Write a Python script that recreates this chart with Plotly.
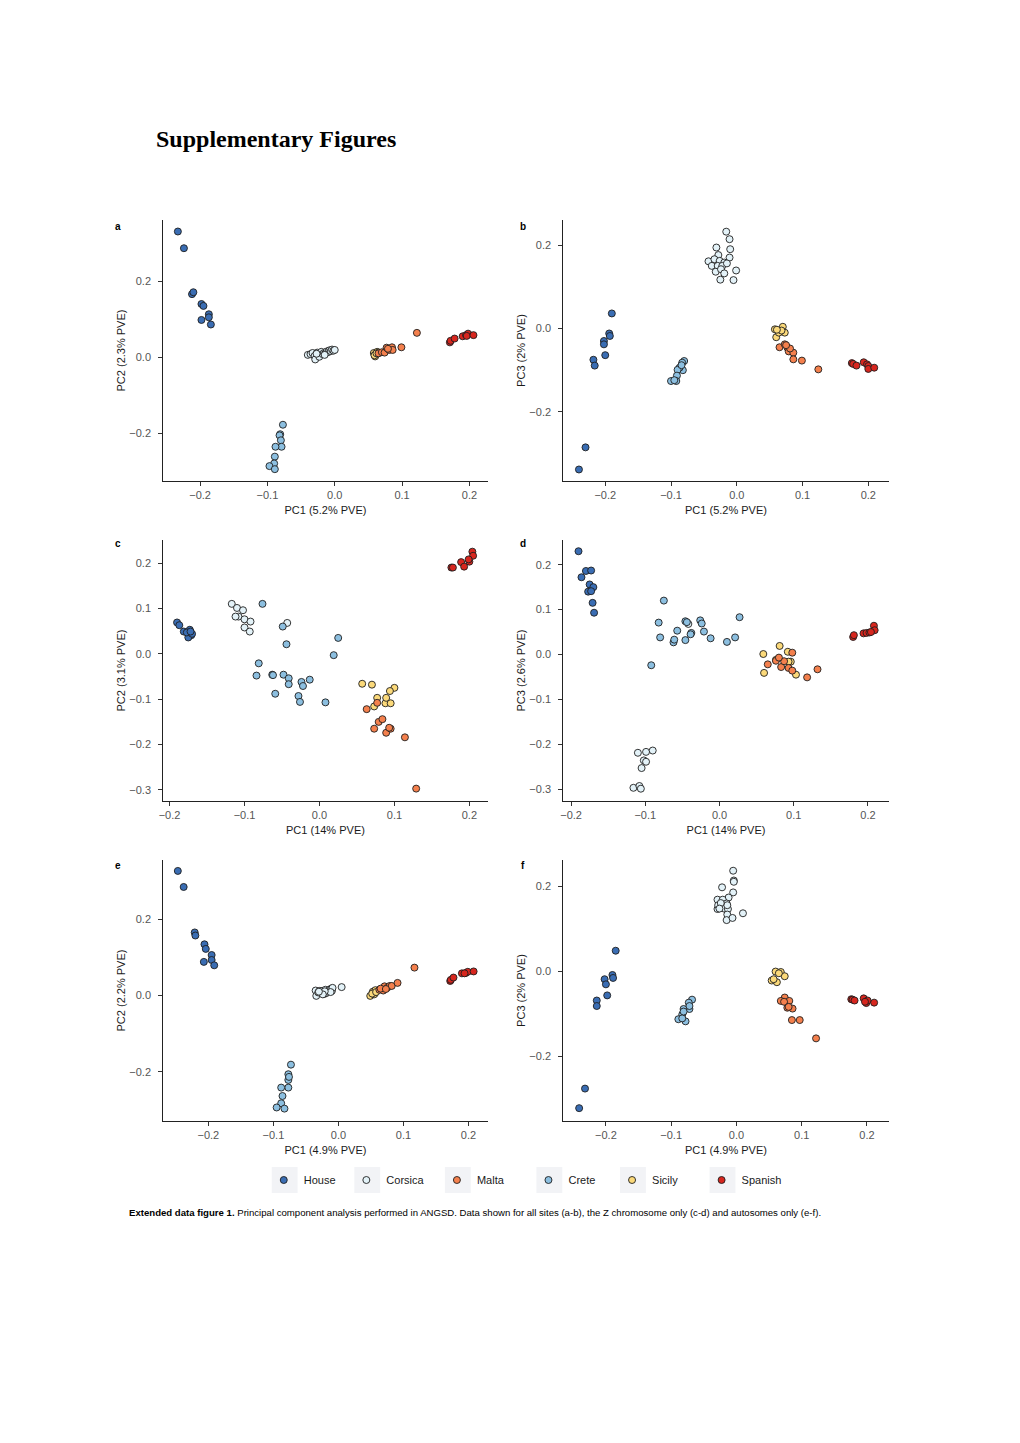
import plotly.graph_objects as go

W, H = 1020, 1443
PAGE_OFFSET_X = 11  # measured shift of the figure inside the page
PAGE_OFFSET_Y = 8

GROUPS = ["House", "Corsica", "Malta", "Crete", "Sicily", "Spanish"]
COLORS = {"House": "#3a6db3", "Corsica": "#e3f2f8", "Malta": "#f4804d",
          "Crete": "#8cbfe0", "Sicily": "#fbd97a", "Spanish": "#d7261e"}
DRAW_ORDER = ["House", "Corsica", "Crete", "Sicily", "Malta", "Spanish"]

# ---------------- panel a : PC1 vs PC2, all sites ----------------
A_HOUSE_X = [-0.233, -0.224, -0.212, -0.210, -0.198, -0.195, -0.198, -0.187, -0.187, -0.184]
A_HOUSE_Y = [0.331, 0.287, 0.166, 0.171, 0.140, 0.135, 0.098, 0.113, 0.105, 0.086]
A_CORSICA_X = [-0.040, -0.036, -0.033, -0.030, -0.029, -0.026, -0.023, -0.020, -0.018, -0.016,
               -0.014, -0.012, -0.010, -0.008, -0.006, -0.004, -0.002, 0.000, -0.027, -0.015]
A_CORSICA_Y = [0.006, 0.008, 0.011, 0.003, -0.006, 0.012, 0.001, 0.014, 0.008, 0.011,
               0.010, 0.015, 0.013, 0.018, 0.016, 0.020, 0.017, 0.019, 0.009, 0.006]
A_CRETE_X = [-0.077, -0.081, -0.082, -0.080, -0.079, -0.088, -0.089, -0.090, -0.097, -0.089]
A_CRETE_Y = [-0.178, -0.203, -0.206, -0.219, -0.236, -0.236, -0.262, -0.280, -0.287, -0.295]
A_SICILY_X = [0.058, 0.060, 0.063, 0.061, 0.065, 0.059, 0.062]
A_SICILY_Y = [0.011, 0.002, 0.014, 0.008, 0.012, 0.005, 0.010]
A_MALTA_X = [0.065, 0.070, 0.074, 0.077, 0.081, 0.085, 0.086, 0.099, 0.122, 0.079]
A_MALTA_Y = [0.010, 0.013, 0.012, 0.025, 0.019, 0.026, 0.019, 0.026, 0.064, 0.022]
A_SPANISH_X = [0.171, 0.172, 0.178, 0.190, 0.195, 0.198, 0.196, 0.206]
A_SPANISH_Y = [0.039, 0.043, 0.049, 0.055, 0.058, 0.062, 0.056, 0.058]

# ---------------- panel b : PC1 vs PC3, all sites ----------------
B_HOUSE_X = [-0.190, -0.194, -0.193, -0.202, -0.202, -0.200, -0.218, -0.216, -0.230, -0.240]
B_HOUSE_Y = [0.036, -0.012, -0.018, -0.030, -0.038, -0.064, -0.075, -0.089, -0.285, -0.338]
B_CORSICA_X = [-0.016, -0.011, -0.031, -0.010, -0.028, -0.011, -0.043, -0.034, -0.026, -0.019,
               -0.038, -0.029, -0.022, -0.015, -0.032, -0.024, -0.019, -0.001, -0.025, -0.005]
B_CORSICA_Y = [0.232, 0.214, 0.194, 0.190, 0.176, 0.170, 0.161, 0.166, 0.162, 0.158,
               0.150, 0.150, 0.150, 0.156, 0.136, 0.142, 0.132, 0.139, 0.117, 0.116]
B_CRETE_X = [-0.080, -0.083, -0.082, -0.087, -0.090, -0.091, -0.100, -0.092, -0.095, -0.084]
B_CRETE_Y = [-0.078, -0.082, -0.100, -0.094, -0.099, -0.113, -0.126, -0.126, -0.124, -0.088]
B_SICILY_X = [0.058, 0.070, 0.073, 0.060, 0.064, 0.068, 0.061]
B_SICILY_Y = [-0.002, 0.004, -0.010, -0.021, -0.010, -0.005, -0.003]
B_MALTA_X = [0.065, 0.073, 0.077, 0.079, 0.086, 0.081, 0.086, 0.099, 0.124, 0.075]
B_MALTA_Y = [-0.045, -0.038, -0.046, -0.055, -0.058, -0.048, -0.074, -0.077, -0.098, -0.040]
B_SPANISH_X = [0.175, 0.177, 0.182, 0.193, 0.198, 0.200, 0.200, 0.209]
B_SPANISH_Y = [-0.083, -0.085, -0.089, -0.081, -0.086, -0.090, -0.097, -0.094]

# ---------------- panel c : PC1 vs PC2, Z chromosome ----------------
C_HOUSE_X = [-0.190, -0.187, -0.181, -0.173, -0.174, -0.171, -0.175, -0.170, -0.177, -0.172]
C_HOUSE_Y = [0.069, 0.063, 0.049, 0.053, 0.044, 0.041, 0.036, 0.044, 0.047, 0.049]
C_CORSICA_X = [-0.117, -0.110, -0.108, -0.112, -0.102, -0.100, -0.092, -0.100, -0.093, -0.043]
C_CORSICA_Y = [0.110, 0.101, 0.082, 0.082, 0.096, 0.076, 0.071, 0.058, 0.049, 0.068]
C_CRETE_X = [-0.076, -0.049, -0.044, -0.081, -0.084, -0.063, -0.062, -0.059, -0.048, -0.041,
             -0.041, -0.024, -0.022, -0.013, -0.028, -0.026, 0.008, 0.019, 0.025]
C_CRETE_Y = [0.110, 0.060, 0.021, -0.021, -0.048, -0.046, -0.047, -0.088, -0.046, -0.054,
             -0.067, -0.062, -0.071, -0.057, -0.093, -0.106, -0.107, -0.003, 0.035]
C_SICILY_X = [0.057, 0.070, 0.100, 0.094, 0.077, 0.073, 0.088, 0.095, 0.089]
C_SICILY_Y = [-0.066, -0.068, -0.075, -0.082, -0.097, -0.116, -0.109, -0.109, -0.097]
C_MALTA_X = [0.063, 0.077, 0.079, 0.084, 0.073, 0.089, 0.095, 0.114, 0.129, 0.093]
C_MALTA_Y = [-0.122, -0.108, -0.150, -0.144, -0.165, -0.174, -0.165, -0.184, -0.297, -0.163]
C_SPANISH_X = [0.176, 0.178, 0.189, 0.193, 0.200, 0.204, 0.205, 0.199]
C_SPANISH_Y = [0.190, 0.190, 0.202, 0.192, 0.203, 0.225, 0.216, 0.208]

# ---------------- panel d : PC1 vs PC3, Z chromosome ----------------
D_HOUSE_X = [-0.190, -0.186, -0.180, -0.173, -0.175, -0.170, -0.177, -0.173, -0.171, -0.169]
D_HOUSE_Y = [0.230, 0.172, 0.186, 0.187, 0.156, 0.150, 0.140, 0.141, 0.115, 0.093]
D_CORSICA_X = [-0.110, -0.099, -0.090, -0.102, -0.099, -0.105, -0.116, -0.108, -0.106, -0.042]
D_CORSICA_Y = [-0.219, -0.217, -0.214, -0.236, -0.239, -0.253, -0.297, -0.293, -0.299, 0.068]
D_CRETE_X = [-0.075, -0.082, -0.080, -0.092, -0.062, -0.061, -0.057, -0.046, -0.046, -0.038,
             -0.039, -0.026, -0.024, -0.021, -0.012, 0.010, 0.021, 0.027, -0.044]
D_CRETE_Y = [0.120, 0.071, 0.038, -0.024, 0.027, 0.033, 0.053, 0.074, 0.032, 0.048,
             0.045, 0.076, 0.069, 0.051, 0.036, 0.028, 0.038, 0.083, 0.072]
D_SICILY_X = [0.059, 0.081, 0.092, 0.060, 0.103, 0.096, 0.076, 0.093]
D_SICILY_Y = [0.001, 0.019, 0.006, -0.041, -0.045, -0.016, -0.012, -0.016]
D_MALTA_X = [0.065, 0.076, 0.083, 0.087, 0.093, 0.098, 0.098, 0.118, 0.132, 0.080]
D_MALTA_Y = [-0.022, -0.014, -0.028, -0.015, -0.030, 0.004, -0.036, -0.051, -0.033, -0.007]
D_SPANISH_X = [0.180, 0.181, 0.194, 0.198, 0.202, 0.208, 0.209, 0.204]
D_SPANISH_Y = [0.039, 0.043, 0.047, 0.048, 0.049, 0.064, 0.054, 0.050]

# ---------------- panel e : PC1 vs PC2, autosomes ----------------
E_HOUSE_X = [-0.247, -0.238, -0.221, -0.220, -0.206, -0.204, -0.207, -0.195, -0.195, -0.191]
E_HOUSE_Y = [0.326, 0.284, 0.165, 0.157, 0.134, 0.122, 0.088, 0.106, 0.093, 0.079]
E_CORSICA_X = [-0.035, -0.034, -0.031, -0.029, -0.027, -0.025, -0.022, -0.020, -0.019, -0.017,
               -0.015, -0.013, -0.011, -0.010, -0.009, -0.012, -0.021, -0.024, -0.030, 0.005]
E_CORSICA_Y = [0.013, -0.001, 0.008, 0.012, 0.010, 0.012, 0.004, 0.015, 0.006, 0.010,
               0.013, 0.016, 0.018, 0.012, 0.020, 0.009, 0.011, 0.003, 0.010, 0.022]
E_CRETE_X = [-0.073, -0.077, -0.077, -0.077, -0.088, -0.086, -0.088, -0.095, -0.083, -0.076]
E_CRETE_Y = [-0.181, -0.206, -0.221, -0.241, -0.241, -0.263, -0.282, -0.293, -0.296, -0.213]
E_SICILY_X = [0.049, 0.056, 0.053, 0.057, 0.055, 0.052, 0.058]
E_SICILY_Y = [-0.001, 0.006, 0.010, 0.014, 0.003, 0.005, 0.009]
E_MALTA_X = [0.063, 0.069, 0.071, 0.075, 0.079, 0.082, 0.091, 0.117, 0.065, 0.073]
E_MALTA_Y = [0.015, 0.013, 0.024, 0.020, 0.025, 0.025, 0.033, 0.073, 0.018, 0.017]
E_SPANISH_X = [0.172, 0.173, 0.177, 0.190, 0.196, 0.199, 0.208, 0.194]
E_SPANISH_Y = [0.038, 0.041, 0.047, 0.058, 0.059, 0.062, 0.063, 0.058]

# ---------------- panel f : PC1 vs PC3, autosomes ----------------
F_HOUSE_X = [-0.185, -0.190, -0.189, -0.202, -0.200, -0.198, -0.214, -0.214, -0.232, -0.241]
F_HOUSE_Y = [0.048, -0.009, -0.016, -0.019, -0.031, -0.057, -0.069, -0.082, -0.276, -0.322]
F_CORSICA_X = [-0.005, -0.004, -0.022, -0.005, -0.012, -0.029, -0.021, -0.015, -0.029, -0.028,
               -0.019, -0.013, -0.014, -0.015, -0.006, 0.010, -0.004, -0.014, -0.024, -0.026]
F_CORSICA_Y = [0.236, 0.213, 0.197, 0.185, 0.173, 0.168, 0.168, 0.159, 0.146, 0.155,
               0.147, 0.146, 0.133, 0.120, 0.125, 0.136, 0.210, 0.155, 0.160, 0.147]
F_CRETE_X = [-0.068, -0.073, -0.072, -0.081, -0.083, -0.089, -0.078, -0.083, -0.072, -0.081]
F_CRETE_Y = [-0.067, -0.074, -0.089, -0.089, -0.102, -0.113, -0.118, -0.111, -0.082, -0.095]
F_SICILY_X = [0.060, 0.068, 0.074, 0.054, 0.062, 0.065, 0.057]
F_SICILY_Y = [-0.001, -0.002, -0.012, -0.022, -0.026, -0.005, -0.019]
F_MALTA_X = [0.074, 0.068, 0.081, 0.078, 0.086, 0.085, 0.097, 0.122, 0.073, 0.080]
F_MALTA_Y = [-0.062, -0.070, -0.070, -0.086, -0.088, -0.115, -0.115, -0.158, -0.072, -0.084]
F_SPANISH_X = [0.176, 0.178, 0.181, 0.195, 0.199, 0.201, 0.211, 0.197]
F_SPANISH_Y = [-0.066, -0.067, -0.069, -0.064, -0.075, -0.069, -0.074, -0.072]

# axis labels
X_TITLES = ["PC1 (5.2% PVE)", "PC1 (5.2% PVE)", "PC1 (14% PVE)", "PC1 (14% PVE)",
            "PC1 (4.9% PVE)", "PC1 (4.9% PVE)"]
Y_TITLES = ["PC2 (2.3% PVE)", "PC3 (2% PVE)", "PC2 (3.1% PVE)", "PC3 (2.6% PVE)",
            "PC2 (2.2% PVE)", "PC3 (2% PVE)"]
LETTERS = ["a", "b", "c", "d", "e", "f"]
X_TICKS = [-0.2, -0.1, 0.0, 0.1, 0.2]
Y_TICKS_WIDE = [-0.2, 0.0, 0.2]
Y_TICKS_FINE = [-0.3, -0.2, -0.1, 0.0, 0.1, 0.2]

G = globals()


def px_x(v):
    return (v - PAGE_OFFSET_X) / W


def px_y(v):
    return 1 - (v - PAGE_OFFSET_Y) / H


# ---------------- layout geometry (pixels in the page) ----------------
COLS = [(162, 488), (564, 891)]
ROWS = [(220, 481), (540, 801), (860, 1121)]
LETTER_POS = [(117, 227), (524, 227), (117, 544), (524, 543), (117, 865), (524, 865)]
X_RANGES = [(-0.2547, 0.2271), (-0.2638, 0.2310), (-0.2084, 0.2244),
            (-0.2105, 0.2279), (-0.2694, 0.2296), (-0.2653, 0.2333)]
Y_RANGES = [(-0.3262, 0.3613), (-0.3656, 0.2600), (-0.3243, 0.2507),
            (-0.3264, 0.2550), (-0.3284, 0.3546), (-0.3522, 0.2612)]

FONT = "Liberation Sans, Arial, Helvetica, sans-serif"

fig = go.Figure()
layout_axes = {}
annotations = []

for i, letter in enumerate(LETTERS):
    r, c = divmod(i, 2)
    x0, x1 = COLS[c]
    y0, y1 = ROWS[r]
    xa = "xaxis" if i == 0 else f"xaxis{i+1}"
    ya = "yaxis" if i == 0 else f"yaxis{i+1}"
    xref = "x" if i == 0 else f"x{i+1}"
    yref = "y" if i == 0 else f"y{i+1}"

    for g in DRAW_ORDER:
        key = letter.upper() + "_" + g.upper()
        fig.add_trace(go.Scatter(
            x=G[key + "_X"], y=G[key + "_Y"], mode="markers", name=g,
            xaxis=xref, yaxis=yref,
            marker=dict(size=7, color=COLORS[g], line=dict(width=0.9, color="#1e1e1e")),
            showlegend=False, hoverinfo="x+y+name"))

    common = dict(showline=True, linecolor="#222222", linewidth=1, mirror=False,
                  ticks="outside", ticklen=4, tickwidth=1, tickcolor="#333333",
                  showgrid=False, zeroline=False, tickformat=".1f",
                  tickfont=dict(family=FONT, size=11, color="#555555"))
    layout_axes[xa] = dict(common, domain=[px_x(x0), px_x(x1)], anchor=yref,
                           range=list(X_RANGES[i]), tickvals=X_TICKS,
                           title=dict(text=X_TITLES[i], standoff=6,
                                      font=dict(family=FONT, size=11, color="#1a1a1a")))
    yt = Y_TICKS_FINE if letter in "cd" else Y_TICKS_WIDE
    layout_axes[ya] = dict(common, domain=[px_y(y1), px_y(y0)], anchor=xref,
                           range=list(Y_RANGES[i]), tickvals=yt, ticklabelstandoff=5,
                           title=dict(text=Y_TITLES[i], standoff=1,
                                      font=dict(family=FONT, size=11, color="#1a1a1a")))
    lx, ly = LETTER_POS[i]
    annotations.append(dict(text=f"<b>{letter}</b>", xref="paper", yref="paper",
                            x=px_x(lx), y=px_y(ly), xanchor="center",
                            yanchor="middle", showarrow=False,
                            font=dict(family=FONT, size=10, color="#000000")))

# ---------------- legend (one per group so each key sits where it should) ----------------
LEGEND_X = [284, 367, 458, 550, 634, 724]
LEGEND_YPIX = 1180
LEGEND_ORDER = ["House", "Corsica", "Malta", "Crete", "Sicily", "Spanish"]
shapes = []
for k, g in enumerate(LEGEND_ORDER):
    lname = "legend" if k == 0 else f"legend{k+1}"
    fig.add_trace(go.Scatter(
        x=[None], y=[None], mode="markers", name=g, legend=lname, showlegend=True,
        marker=dict(size=7, color=COLORS[g], line=dict(width=0.9, color="#1e1e1e"))))
    layout_axes[lname] = dict(x=px_x(LEGEND_X[k] - 21), y=px_y(LEGEND_YPIX),
                              xanchor="left", yanchor="middle", bgcolor="rgba(0,0,0,0)",
                              borderwidth=0, font=dict(family=FONT, size=11, color="#1a1a1a"))
    shapes.append(dict(type="rect", xref="paper", yref="paper", layer="below",
                       x0=px_x(LEGEND_X[k] - 13), x1=px_x(LEGEND_X[k] + 13),
                       y0=px_y(1193), y1=px_y(1167),
                       fillcolor="#f2f3f6", line=dict(width=0)))

annotations.append(dict(text="<b>Supplementary Figures</b>", xref="paper", yref="paper",
                        x=px_x(153), y=px_y(139), xanchor="left", yanchor="middle",
                        showarrow=False,
                        font=dict(family="Liberation Serif, Times New Roman, serif", size=24,
                                  color="#000000")))
annotations.append(dict(
    text="<b>Extended data figure 1.</b> Principal component analysis performed in ANGSD. "
         "Data shown for all sites (a-b), the Z chromosome only (c-d) and autosomes only (e-f).",
    xref="paper", yref="paper", x=px_x(126), y=px_y(1212), xanchor="left", yanchor="middle",
    showarrow=False,
    font=dict(family="Liberation Sans, Arial, sans-serif", size=9.6, color="#000000")))

fig.update_layout(width=W, height=H, margin=dict(l=0, r=0, t=0, b=0),
                  paper_bgcolor="white", plot_bgcolor="white",
                  annotations=annotations, shapes=shapes, **layout_axes)

fig.write_html("out.html")
